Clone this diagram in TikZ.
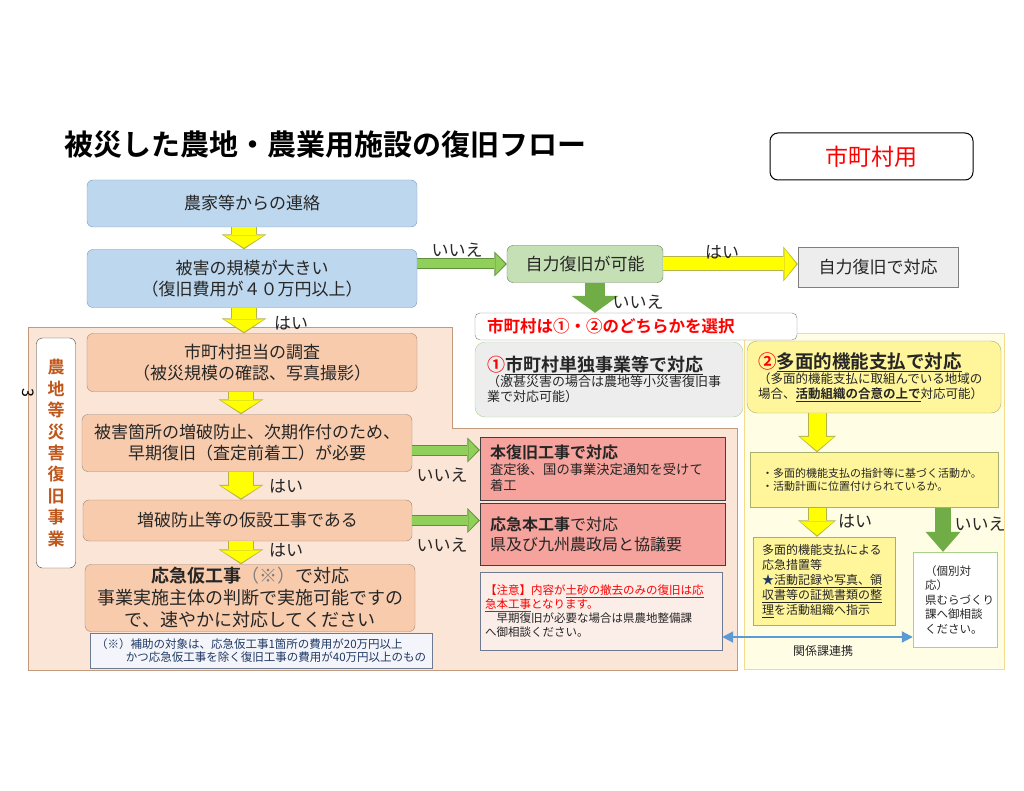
\documentclass[tikz,border=0pt]{standalone}
\usepackage{fontspec}
\setmainfont{Noto Sans CJK JP}[BoldFont={Noto Sans CJK JP Bold}]
\usetikzlibrary{arrows.meta}

\definecolor{boxblue}{HTML}{BDD7EE}
\definecolor{lineblue}{HTML}{7E99B5}
\definecolor{boxorange}{HTML}{F8CBAD}
\definecolor{lineorange}{HTML}{9C8577}
\definecolor{bgorange}{HTML}{FBE5D6}
\definecolor{bgedge}{HTML}{C49A7C}
\definecolor{boxgreen}{HTML}{C5E0B4}
\definecolor{linegreen}{HTML}{5F7F4F}
\definecolor{boxgray}{HTML}{EDEDED}
\definecolor{linegray}{HTML}{7F7F7F}
\definecolor{boxred}{HTML}{F5A39C}
\definecolor{linered}{HTML}{404040}
\definecolor{notepink}{HTML}{FBEDE8}
\definecolor{linenote}{HTML}{6D7A92}
\definecolor{noteblue}{HTML}{F4F5FA}
\definecolor{bgyellow}{HTML}{FFFDE3}
\definecolor{lineyellow}{HTML}{F2DC8C}
\definecolor{boxyellow}{HTML}{FFF59A}
\definecolor{lineolive}{HTML}{A8B070}
\definecolor{lineopt}{HTML}{A9D18E}
\definecolor{arrowyellow}{HTML}{FFFF00}
\definecolor{yellowedge}{HTML}{B4B44A}
\definecolor{arrowlight}{HTML}{8FCF5A}
\definecolor{lightedge}{HTML}{5E8F3A}
\definecolor{arrowdark}{HTML}{70AD47}
\definecolor{arrowblue}{HTML}{5B9BD5}
\definecolor{numred}{HTML}{FF0000}
\definecolor{textbrown}{HTML}{C0561A}
\definecolor{textnavy}{HTML}{1F3864}
\definecolor{textdark}{HTML}{262626}
\definecolor{markgray}{HTML}{808080}

\tikzset{
  flowbox/.style={rounded corners=6pt, inner sep=0pt, align=center, text=textdark,
    font=\fontsize{17}{21}\selectfont},
  bluebox/.style={flowbox, draw=lineblue, fill=boxblue},
  orangebox/.style={flowbox, draw=lineorange, fill=boxorange},
  greenbox/.style={flowbox, draw=linegreen, fill=boxgreen},
  graybox/.style={flowbox, rounded corners=0pt, draw=linegray, fill=boxgray},
  textbox/.style={inner ysep=0pt, align=left, text=textdark},
  redbox/.style={textbox, draw=linered, fill=boxred, inner xsep=10pt, text width=225pt},
  optbox/.style={textbox, rounded corners=10pt, inner xsep=12pt},
  yellowbox/.style={textbox, draw=lineolive, fill=boxyellow},
  answer/.style={text=textdark, inner sep=0pt, font=\fontsize{17}{20}\selectfont},
  yarrow/.style={draw=arrowyellow, line width=24pt, shorten >=1.5pt,
    -{Triangle[length=12.5pt,width=40pt,line width=0pt]},
    preaction={draw=yellowedge, line width=26pt, shorten >=0pt,
      -{Triangle[length=15pt,width=45pt,line width=0pt]}}},
  yharrow/.style={draw=arrowyellow, line width=13pt, shorten >=1.5pt,
    -{Triangle[length=12pt,width=31pt,line width=0pt]},
    preaction={draw=yellowedge, line width=15pt, shorten >=0pt,
      -{Triangle[length=14.5pt,width=35pt,line width=0pt]}}},
  yarrow2/.style={draw=arrowyellow, line width=17pt, shorten >=1.5pt,
    -{Triangle[length=14pt,width=34pt,line width=0pt]},
    preaction={draw=yellowedge, line width=19pt, shorten >=0pt,
      -{Triangle[length=16.5pt,width=38pt,line width=0pt]}}},
  garrow/.style={draw=arrowlight, line width=9pt, shorten >=1.5pt,
    -{Triangle[length=10pt,width=21pt,line width=0pt]},
    preaction={draw=lightedge, line width=11pt, shorten >=0pt,
      -{Triangle[length=12.5pt,width=25pt,line width=0pt]}}},
  darrow/.style={draw=arrowdark, line width=20pt,
    -{Triangle[length=17pt,width=47pt,line width=0pt]}},
  darrow2/.style={draw=arrowdark, line width=16pt,
    -{Triangle[length=20pt,width=35pt,line width=0pt]}},
  linkarrow/.style={draw=arrowblue, line width=2pt,
    {Triangle[length=11pt,width=11pt]}-{Triangle[length=11pt,width=11pt]}},
}

\begin{document}
\begin{tikzpicture}[x=1pt,y=-1pt]
  \useasboundingbox (0,0) rectangle (1024,791);

  % background areas
  \filldraw[fill=bgorange, draw=bgedge] (28,327) -- (452,327) -- (452,428)
    -- (737,428) -- (737,670) -- (28,670) -- cycle;
  \filldraw[fill=bgyellow, draw=lineyellow] (744,333) rectangle (1004,669);

  \node[anchor=west, inner sep=0pt, font=\fontsize{29}{33}\selectfont\bfseries]
    (title) at (64,145) {被災した農地・農業用施設の復旧フロー};

  \node[draw=black, line width=1pt, rounded corners=8pt, minimum width=203pt,
    minimum height=47pt, text=numred, font=\fontsize{23}{26}\selectfont]
    (usefor) at (871.5,156.5) {市町村用};

  % main column
  \node[bluebox, minimum width=330pt, minimum height=47pt] (contact)
    at (252,203.5) {農家等からの連絡};
  \node[bluebox, minimum width=330pt, minimum height=58pt] (scale)
    at (252,278.5) {被害の規模が大きい\\（復旧費用が４０万円以上）};

  \node[greenbox, minimum width=156pt, minimum height=37pt] (selfq)
    at (585,264) {自力復旧が可能};
  \node[graybox, minimum width=160pt, minimum height=40pt] (selfdo)
    at (878,267) {自力復旧で対応};

  \node[textbox, draw=linegray, fill=white, rounded corners=5pt, inner xsep=12pt,
    text width=298pt, minimum height=27pt, text=numred,
    font=\fontsize{16.5}{20}\selectfont\bfseries]
    (choose) at (636,326.5) {市町村は①・②のどちらかを選択};

  \node[orangebox, minimum width=330pt, minimum height=58pt] (survey)
    at (252,362.5) {市町村担当の調査\\（被災規模の確認、写真撮影）};
  \node[orangebox, minimum width=330pt, minimum height=57pt] (early)
    at (247,443) {被害箇所の増破防止、次期作付のため、\\早期復旧（査定前着工）が必要};
  \node[orangebox, minimum width=329pt, minimum height=41pt] (temp)
    at (247.5,520.5) {増破防止等の仮設工事である};
  \node[orangebox, minimum width=330pt, minimum height=67pt,
    font=\fontsize{18}{22}\selectfont] (emerg) at (250,598)
    {\textbf{応急仮工事}\textcolor{markgray}{（※）}で対応\\事業実施主体の判断で実施可能ですの\\で、速やかに対応してください};
  \node[textbox, draw=linenote, fill=noteblue, inner xsep=6pt, text width=330pt,
    minimum height=35pt, text=textnavy, font=\fontsize{11.5}{13.5}\selectfont]
    (costnote) at (261,650.5)
    {（※）補助の対象は、応急仮工事1箇所の費用が20万円以上\\\hspace*{2.6em}かつ応急仮工事を除く復旧工事の費用が40万円以上のもの};

  \node[draw=linered, fill=white, rounded corners=6pt, minimum width=39pt,
    minimum height=230pt, inner sep=0pt, align=center, text=textbrown,
    font=\fontsize{17}{21.4}\selectfont\bfseries]
    (projlabel) at (56,453) {農\\地\\等\\災\\害\\復\\旧\\事\\業};
  \node[rotate=-90, inner sep=0pt, font=\fontsize{16}{16}\selectfont]
    (pagemark) at (28,393) {3};

  % right side: red boxes
  \node[redbox, minimum height=63pt] (main) at (602.5,468.5)
    {{\fontsize{16}{19}\selectfont\bfseries 本復旧工事で対応\par}
     {\fontsize{13.3}{16}\selectfont 査定後、国の事業決定通知を受けて\\着工\par}};
  \node[redbox, minimum height=62pt, font=\fontsize{16}{20}\selectfont]
    (emmain) at (602.5,534) {\textbf{応急本工事}で対応\\県及び九州農政局と協議要};
  \node[textbox, draw=linenote, fill=notepink, inner xsep=5pt, text width=232pt,
    minimum height=78pt, font=\fontsize{11.5}{14}\selectfont] (rnote) at (601,611)
    {\textcolor{numred}{【注意】内容が\underline{土砂の撤去のみの復旧は応}}\\\textcolor{numred}{\underline{急本工事}となります。}\\　早期復旧が必要な場合は県農地整備課\\へ御相談ください。};

  % option 1 and 2
  \node[optbox, draw=lineopt, fill=boxgray, text width=244pt, minimum height=75pt]
    (opt1) at (609,379.5)
    {{\fontsize{18}{22}\selectfont\bfseries\textcolor{numred}{①}\underline{市町村単独事業等で対応}\par}
     {\fontsize{13}{15}\selectfont （激甚災害の場合は農地等小災害復旧事\\業で対応可能）\par}};
  \node[optbox, draw=lineolive, fill=boxyellow, inner xsep=11pt, text width=232pt,
    minimum height=72pt] (opt2) at (874,377)
    {{\fontsize{18.5}{22}\selectfont\bfseries\textcolor{numred}{②}\underline{多面的機能支払で対応}\par}
     {\fontsize{12.5}{15}\selectfont （多面的機能支払に取組んでいる地域の\\場合、\textbf{\underline{活動組織の合意の上で}}対応可能）\par}};

  \node[yellowbox, inner xsep=12pt, text width=224pt, minimum height=55pt,
    font=\fontsize{11}{13.5}\selectfont] (check) at (874,480)
    {・多面的機能支払の指針等に基づく活動か。\\・活動計画に位置付けられているか。};
  \node[yellowbox, inner xsep=9pt, text width=124pt, minimum height=88pt,
    font=\fontsize{12}{15}\selectfont] (measure) at (824,581)
    {多面的機能支払による\\応急措置等\\\textcolor{textnavy}{★}\underline{活動記録や写真、領}\\\underline{収書等の証拠書類の整}\\\underline{理}を活動組織へ指示};
  \node[textbox, draw=lineopt, fill=white, inner xsep=12pt, text width=60pt,
    minimum height=95pt, font=\fontsize{11.5}{14.5}\selectfont] (consult)
    at (955,599.5) {（個別対\\応）\\県むらづくり\\課へ御相談\\ください。};

  % arrows
  \coordinate (axl) at (244,0);
  \coordinate (axm) at (241,0);
  \coordinate (axs) at (595,0);
  \coordinate (axr) at (817,0);
  \coordinate (axq) at (943,0);
  \coordinate (ayn) at (0,450);
  \coordinate (ayl) at (0,637);

  \draw[yarrow] (contact.south -| axl) -- (scale.north -| axl);
  \draw[yarrow] (scale.south -| axl) -- (survey.north -| axl);
  \draw[yarrow] (survey.south -| axm) -- (early.north -| axm);
  \draw[yarrow] (early.south -| axm) -- (temp.north -| axm);
  \draw[yarrow] (temp.south -| axm) -- (emerg.north -| axm);

  \draw[garrow] (scale.east |- selfq.west) -- (selfq.west);
  \draw[yharrow] (selfq.east) -- (selfq.east -| selfdo.west);
  \draw[darrow] (selfq.south -| axs) -- (choose.north -| axs);
  \draw[garrow] (early.east |- ayn) -- (main.west |- ayn);
  \draw[garrow] (temp.east) -- (temp.east -| emmain.west);

  \draw[yarrow2] (opt2.south -| axr) -- (check.north -| axr);
  \draw[yarrow2] (check.south -| axr) -- (measure.north -| axr);
  \draw[darrow2] (check.south -| axq) -- (consult.north -| axq);
  \draw[linkarrow] (rnote.east |- ayl) -- (consult.west |- ayl);

  % answers
  \node[answer] (no1) at (457,250) {いいえ};
  \node[answer] (yes1) at (722,252) {はい};
  \node[answer] (no2) at (638,302) {いいえ};
  \node[answer] (yes2) at (291,323) {はい};
  \node[answer] (yes3) at (286,486) {はい};
  \node[answer] (yes4) at (286,550) {はい};
  \node[answer] (no3) at (442,475) {いいえ};
  \node[answer] (no4) at (442,545) {いいえ};
  \node[answer] (yes5) at (855,521) {はい};
  \node[answer] (no5) at (980,524) {いいえ};
  \node[text=textdark, inner sep=0pt, font=\fontsize{12}{14}\selectfont]
    (linklabel) at (823,651) {関係課連携};
\end{tikzpicture}
\end{document}
